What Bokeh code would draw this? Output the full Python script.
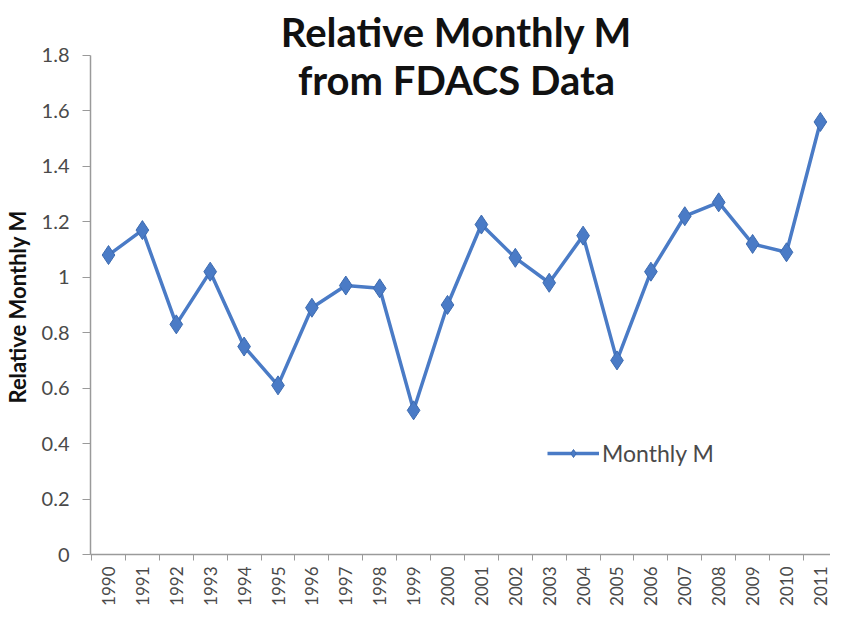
from bokeh.plotting import figure
from bokeh.models import (ColumnDataSource, Range1d, FixedTicker, Label, Legend, LegendItem)
from bokeh.embed import file_html
from bokeh.resources import INLINE
from math import pi

years = [1990, 1991, 1992, 1993, 1994, 1995, 1996, 1997, 1998, 1999, 2000,
         2001, 2002, 2003, 2004, 2005, 2006, 2007, 2008, 2009, 2010, 2011]
monthly_m = [1.08, 1.17, 0.83, 1.02, 0.75, 0.61, 0.89, 0.97, 0.96, 0.52, 0.90,
             1.19, 1.07, 0.98, 1.15, 0.70, 1.02, 1.22, 1.27, 1.12, 1.09, 1.56]
y_ticks = [0, 0.2, 0.4, 0.6, 0.8, 1, 1.2, 1.4, 1.6, 1.8]
y_tick_labels = ["0", "0.2", "0.4", "0.6", "0.8", "1", "1.2", "1.4", "1.6", "1.8"]
x_tick_labels = [str(y) for y in years]
title_lines = ["Relative Monthly M", "from FDACS Data"]
series_name = "Monthly M"
y_label = "Relative Monthly M"

BLUE = "#4a7bc6"
GRAY_TEXT = "#4a4a4a"
AXIS_GRAY = "#9a9a9a"

src = ColumnDataSource(dict(x=years, y=monthly_m))

p = figure(width=830, height=608, output_backend="svg", toolbar_location=None,
           x_range=Range1d(1989.469, 2011.298), y_range=Range1d(0, 1.998),
           min_border_left=90, min_border_top=0, min_border_bottom=53,
           min_border_right=0)
p.outline_line_color = None
p.xgrid.visible = False
p.ygrid.visible = False
p.background_fill_color = "white"

# small marker used for the legend swatch (hidden under the main markers)
leg_pts = p.scatter("x", "y", source=src, marker="diamond", size=10,
                    fill_color=BLUE, line_color="#3d6bb0", line_width=1)
line = p.line("x", "y", source=src, line_color=BLUE, line_width=3.5)
pts = p.scatter("x", "y", source=src, marker="diamond", size=19,
                fill_color=BLUE, line_color="#3d6bb0", line_width=1)

# x axis
p.xaxis.ticker = FixedTicker(ticks=years,
                             minor_ticks=[y + 0.5 for y in years[:-1]] + [years[0] - 0.5])
p.xaxis.major_label_overrides = dict(zip(years, x_tick_labels))
p.xaxis.major_label_orientation = pi / 2
p.xaxis.major_tick_out = 0
p.xaxis.major_tick_in = 0
p.xaxis.minor_tick_out = 6
p.xaxis.minor_tick_in = 0
p.xaxis.minor_tick_line_color = AXIS_GRAY
p.xaxis.axis_line_color = AXIS_GRAY
p.xaxis.axis_line_width = 1.5
p.xaxis.major_label_text_font = "Lato"
p.xaxis.major_label_text_font_size = "17px"
p.xaxis.major_label_text_color = GRAY_TEXT
p.xaxis.major_label_standoff = 6

# y axis
p.yaxis.ticker = FixedTicker(ticks=y_ticks, minor_ticks=[])
p.yaxis.bounds = (0, 1.8)
p.yaxis.major_label_overrides = dict(zip(y_ticks, y_tick_labels))
p.yaxis.major_tick_out = 8
p.yaxis.major_tick_in = 0
p.yaxis.major_tick_line_color = AXIS_GRAY
p.yaxis.axis_line_color = AXIS_GRAY
p.yaxis.axis_line_width = 1.5
p.yaxis.major_label_text_font = "Lato"
p.yaxis.major_label_text_font_size = "20px"
p.yaxis.major_label_text_color = GRAY_TEXT
p.yaxis.major_label_standoff = 13
# trailing no-break spaces shift the centred label down to the reference's position
p.yaxis.axis_label = y_label + "\u00a0" * 11
p.yaxis.axis_label_text_font = "Lato"
p.yaxis.axis_label_text_font_style = "bold"
p.yaxis.axis_label_text_font_size = "22px"
p.yaxis.axis_label_text_color = "#111111"
p.yaxis.axis_label_standoff = 8

# title as labels inside the (tall) frame; screen y is measured up from the frame bottom
p.add_layout(Label(x=366, y=523, x_units="screen", y_units="screen",
                   text=title_lines[0], text_align="center", text_baseline="middle",
                   text_font="Lato", text_font_style="bold", text_font_size="40px",
                   text_color="#111111"))
p.add_layout(Label(x=366, y=475, x_units="screen", y_units="screen",
                   text=title_lines[1], text_align="center", text_baseline="middle",
                   text_font="Lato", text_font_style="bold", text_font_size="40px",
                   text_color="#111111"))

legend = Legend(items=[LegendItem(label=series_name, renderers=[line, leg_pts])],
                location=(457, 87), padding=0, margin=0, border_line_color=None,
                background_fill_alpha=0, glyph_width=52, glyph_height=20,
                label_standoff=3, label_text_font="Lato", label_text_font_size="23px",
                label_text_color=GRAY_TEXT)
p.add_layout(legend)

open("out.html", "w").write(file_html(p, INLINE))
